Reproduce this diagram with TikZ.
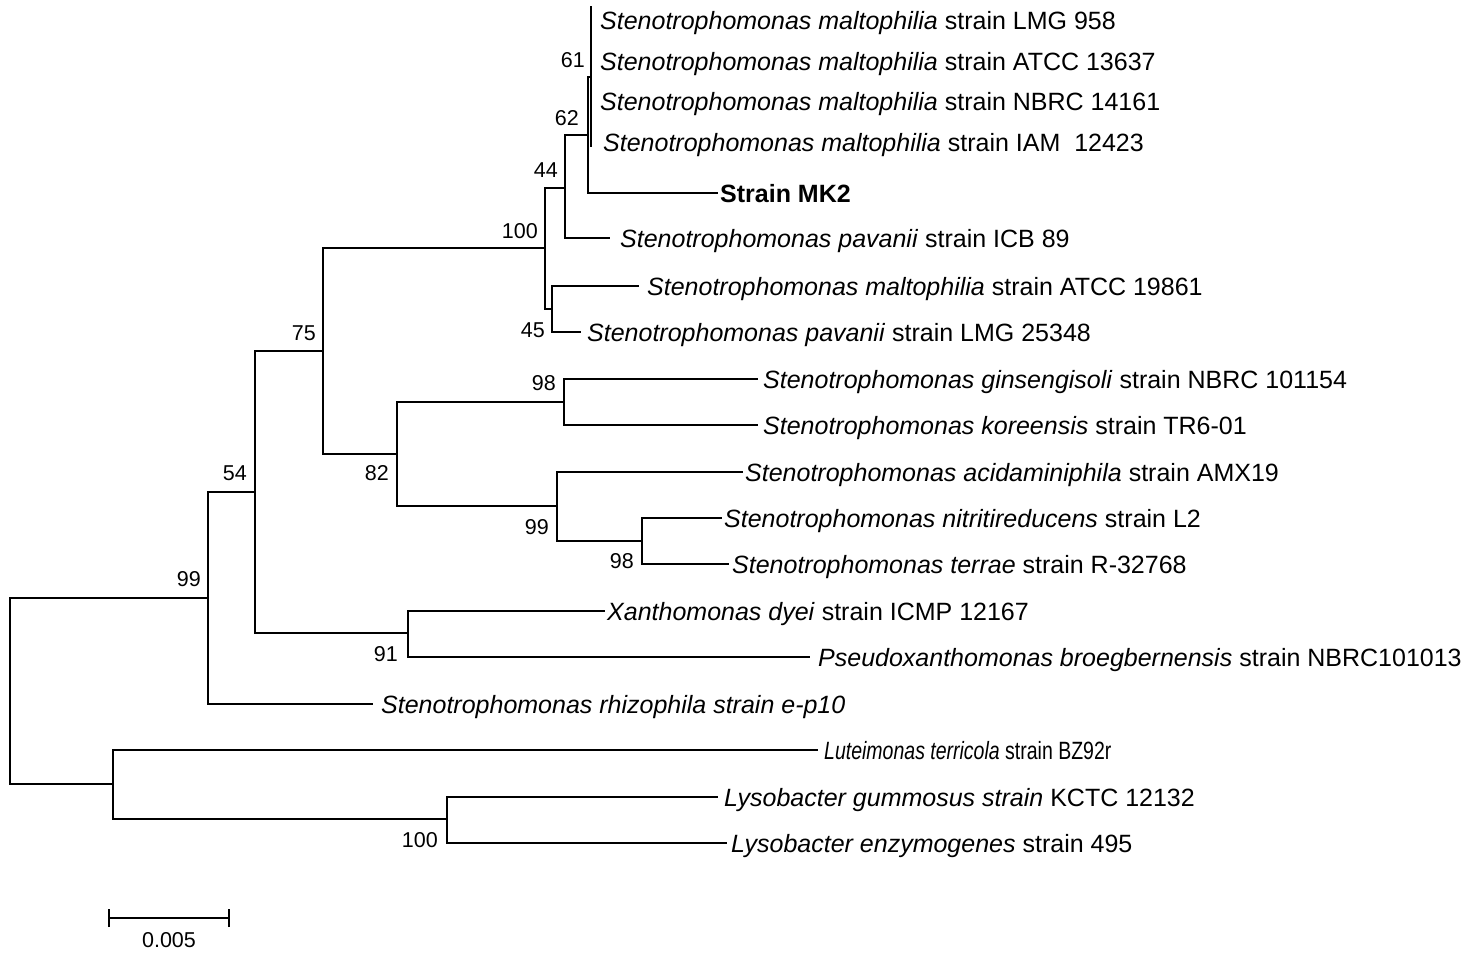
\documentclass[tikz,border=0pt]{standalone}
\usepackage{fontspec}
\setmainfont{Liberation Sans}
\begin{document}
\begin{tikzpicture}[x=1pt,y=-1pt,
  br/.style={line width=2pt, line join=miter},
  leaf/.style={anchor=base west, inner sep=0pt, font=\fontsize{25}{30}\selectfont},
  boot/.style={anchor=east, inner sep=0pt, font=\fontsize{21.5}{25}\selectfont}]
\useasboundingbox (0,0) rectangle (1470,956);
% internal nodes
\coordinate (root) at (10,691);
\coordinate (n99) at (208,598);
\coordinate (n54) at (255,492);
\coordinate (n75) at (323,351);
\coordinate (n100a) at (545,248);
\coordinate (n44) at (565,188);
\coordinate (n62) at (588,135);
\coordinate (n61) at (591,77);
\coordinate (n45) at (552,309);
\coordinate (n82) at (397,454);
\coordinate (n98a) at (564,402);
\coordinate (n99b) at (557,506);
\coordinate (n98b) at (642,541);
\coordinate (n91) at (408,633);
\coordinate (nlow) at (113,784);
\coordinate (n100b) at (447,819);
% branch tips
\coordinate (m1) at (591,6);
\coordinate (m4) at (591,147);
\coordinate (tMK2) at (718,193);
\coordinate (tICB) at (610,238);
\coordinate (tATCC) at (639,286);
\coordinate (tLMG) at (581,332);
\coordinate (tgin) at (758,379);
\coordinate (tkor) at (758,425);
\coordinate (tacid) at (743,472);
\coordinate (tnit) at (722,518);
\coordinate (tterr) at (729,564);
\coordinate (txan) at (605,611);
\coordinate (tpseu) at (810,657);
\coordinate (trhiz) at (373,704);
\coordinate (tlut) at (818,750);
\coordinate (tgum) at (718,797);
\coordinate (tenz) at (727,843);
% branches
\draw[br] (root) |- (n99);
\draw[br] (root) |- (nlow);
\draw[br] (n99) |- (n54);
\draw[br] (n99) |- (trhiz);
\draw[br] (n54) |- (n75);
\draw[br] (n54) |- (n91);
\draw[br] (n75) |- (n100a);
\draw[br] (n75) |- (n82);
\draw[br] (n100a) |- (n44);
\draw[br] (n100a) |- (n45);
\draw[br] (n44) |- (n62);
\draw[br] (n44) |- (tICB);
\draw[br] (n62) |- (n61);
\draw[br] (n62) |- (tMK2);
\draw[br] (n61) -- (m1);
\draw[br] (n61) -- (m4);
\draw[br] (n45) |- (tATCC);
\draw[br] (n45) |- (tLMG);
\draw[br] (n82) |- (n98a);
\draw[br] (n82) |- (n99b);
\draw[br] (n98a) |- (tgin);
\draw[br] (n98a) |- (tkor);
\draw[br] (n99b) |- (tacid);
\draw[br] (n99b) |- (n98b);
\draw[br] (n98b) |- (tnit);
\draw[br] (n98b) |- (tterr);
\draw[br] (n91) |- (txan);
\draw[br] (n91) |- (tpseu);
\draw[br] (nlow) |- (tlut);
\draw[br] (nlow) |- (n100b);
\draw[br] (n100b) |- (tgum);
\draw[br] (n100b) |- (tenz);
% leaf labels
\node[leaf] (L1) at (600,29) {\textit{Stenotrophomonas maltophilia} strain LMG 958};
\node[leaf] (L2) at (600,70) {\textit{Stenotrophomonas maltophilia} strain ATCC 13637};
\node[leaf] (L3) at (600,110) {\textit{Stenotrophomonas maltophilia} strain NBRC 14161};
\node[leaf] (L4) at (603,151) {\textit{Stenotrophomonas maltophilia} strain IAM\ \ 12423};
\node[leaf] (L5) at (720,202) {\textbf{Strain MK2}};
\node[leaf] (L6) at (620,247) {\textit{Stenotrophomonas pavanii} strain ICB 89};
\node[leaf] (L7) at (647,295) {\textit{Stenotrophomonas maltophilia} strain ATCC 19861};
\node[leaf] (L8) at (587,341) {\textit{Stenotrophomonas pavanii} strain LMG 25348};
\node[leaf] (L9) at (763,388) {\textit{Stenotrophomonas ginsengisoli} strain NBRC 101154};
\node[leaf] (L10) at (763,434) {\textit{Stenotrophomonas koreensis} strain TR6-01};
\node[leaf] (L11) at (745,481) {\textit{Stenotrophomonas acidaminiphila} strain AMX19};
\node[leaf] (L12) at (724,527) {\textit{Stenotrophomonas nitritireducens} strain L2};
\node[leaf] (L13) at (732,573) {\textit{Stenotrophomonas terrae} strain R-32768};
\node[leaf] (L14) at (607,620) {\textit{Xanthomonas dyei} strain ICMP 12167};
\node[leaf] (L15) at (818,666) {\textit{Pseudoxanthomonas broegbernensis} strain NBRC101013};
\node[leaf] (L16) at (381,713) {\textit{Stenotrophomonas rhizophila strain e-p10}};
\node[leaf] (L17) at (824,759) {\scalebox{0.78}[1]{\textit{Luteimonas terricola} strain BZ92r}};
\node[leaf] (L18) at (724,806) {\textit{Lysobacter gummosus strain} KCTC 12132};
\node[leaf] (L19) at (731,852) {\textit{Lysobacter enzymogenes} strain 495};
% bootstrap values
\node[boot] (b61) at (585,60) {61};
\node[boot] (b62) at (579,118) {62};
\node[boot] (b44) at (558,170) {44};
\node[boot] (b100a) at (538,231) {100};
\node[boot] (b45) at (545,330) {45};
\node[boot] (b75) at (316,333) {75};
\node[boot] (b54) at (247,473) {54};
\node[boot] (b99) at (201,579) {99};
\node[boot] (b82) at (389,473) {82};
\node[boot] (b98a) at (556,383) {98};
\node[boot] (b99b) at (549,527) {99};
\node[boot] (b98b) at (634,561) {98};
\node[boot] (b91) at (398,654) {91};
\node[boot] (b100b) at (438,840) {100};
% scale bar
\coordinate (sbL) at (109,918);
\coordinate (sbR) at (229,918);
\draw[br] (sbL) -- (sbR);
\draw[br] ([yshift=-9pt]sbL) -- ([yshift=9pt]sbL);
\draw[br] ([yshift=-9pt]sbR) -- ([yshift=9pt]sbR);
\node[inner sep=0pt, font=\fontsize{21.5}{25}\selectfont] (sbt) at (169,940) {0.005};
\end{tikzpicture}
\end{document}
